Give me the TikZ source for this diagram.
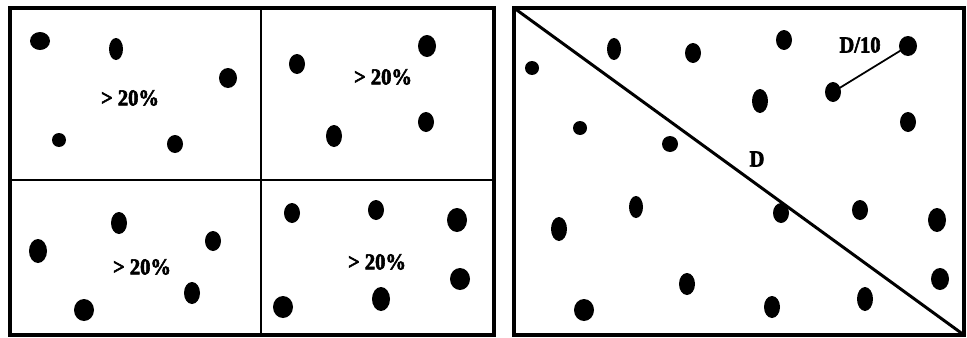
\documentclass[tikz,border=0pt]{standalone}
\usepackage{fontspec}
\setmainfont{Liberation Serif}
\newfontfamily\heavyfont[FakeBold=2.5, FakeStretch=0.9]{Liberation Serif Bold}
\usepackage{tikz}
\usetikzlibrary{shapes.geometric}

\begin{document}
\begin{tikzpicture}[
    x=0.02cm, y=-0.02cm,
    frame/.style={draw=black, line width=2pt},
    divider/.style={draw=black, line width=1.7pt},
    dot/.style={ellipse, fill=black, inner sep=0pt},
    lbl/.style={font=\heavyfont\fontsize{13}{15}\selectfont},
  ]
  \useasboundingbox (0,0) rectangle (967,338);

  % left panel: four cells
  \draw[frame] (10,8) rectangle (494,335);
  \draw[divider] (261,8) -- (261,335);
  \draw[divider] (10,180) -- (494,180);

  \foreach \x/\y/\rx/\ry [count=\i] in {
      40/41/10/9, 116/49/7/11, 228/78/9/10, 59/140/7/7, 175/144/8/9,
      297/64/8/10, 427/46/9/11, 334/136/8/11, 426/122/8/10,
      38/251/9/12, 119/223/8/11, 213/241/8/10, 192/293/8/11, 84/310/10/11,
      292/213/8/10, 376/210/8/10, 457/220/10/12, 460/279/10/11, 381/299/9/12, 283/307/10/11} {
    \node[dot, minimum width=2*\rx*0.02cm, minimum height=2*\ry*0.02cm] (l\i) at (\x,\y) {};
  }

  \node[lbl] (pa) at (130,98) {> 20\%};
  \node[lbl] (pb) at (383,77) {> 20\%};
  \node[lbl] (pc) at (142,267) {> 20\%};
  \node[lbl] (pd) at (377,262) {> 20\%};

  % right panel: cut along the diagonal
  \draw[frame] (514,8) rectangle (964,335);
  \coordinate (dtop) at (514,8);
  \coordinate (dbot) at (964,335);
  \draw[line width=1.7pt] (dtop) -- (dbot);

  \foreach \x/\y/\rx/\ry [count=\i] in {
      532/68/7/7, 614/49/7/11, 693/53/8/10, 784/40/8/10,
      760/101/8/12, 908/122/8/10, 580/128/7/7, 670/144/8/8, 636/207/7/11,
      559/229/8/12, 781/213/8/10, 860/210/8/10, 937/220/9/12, 940/279/9/11,
      865/299/8/12, 772/307/8/11, 687/284/8/11, 584/310/10/11} {
    \node[dot, minimum width=2*\rx*0.02cm, minimum height=2*\ry*0.02cm] (r\i) at (\x,\y) {};
  }
  \node[dot, minimum width=18*0.02cm, minimum height=20*0.02cm] (far) at (908,46) {};
  \node[dot, minimum width=16*0.02cm, minimum height=20*0.02cm] (near) at (833,92) {};
  \draw[line width=1pt] (near.center) -- (far.center);

  \node[lbl] (dlen) at (757,159) {D};
  \node[lbl] (dten) at (860,45) {D/10};

\end{tikzpicture}
\end{document}
